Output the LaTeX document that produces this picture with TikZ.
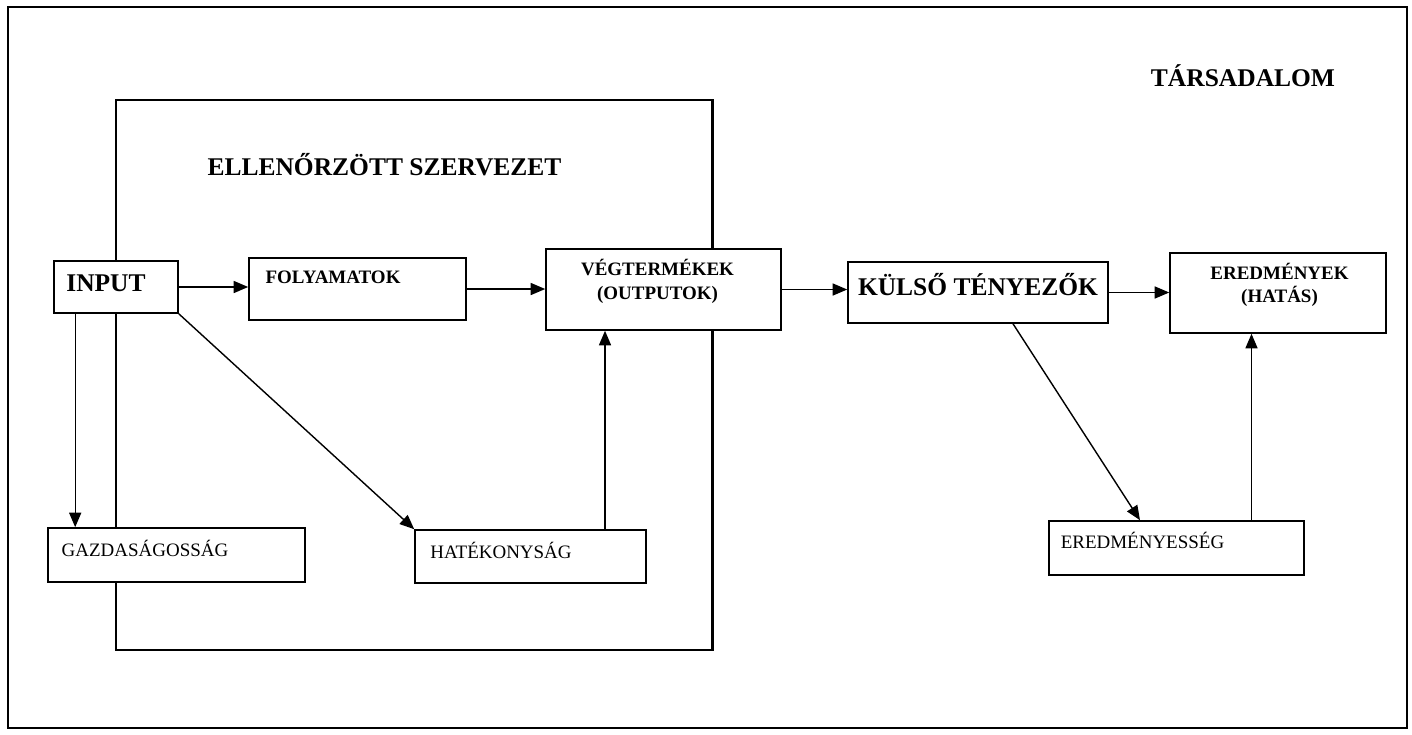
\documentclass[tikz,border=0pt]{standalone}
\usepackage{fontspec}
\setmainfont{Liberation Serif}
\usetikzlibrary{arrows.meta,positioning,calc}
\tikzset{
  frameln/.style={line width=1.3pt},
  box/.style={draw, fill=white, line width=0.9pt, inner sep=0pt},
  arr/.style={-{Triangle[length=2.9mm,width=2.4mm]}, line width=0.8pt},
  bigtxt/.style={font=\fontsize{14.5}{17}\selectfont\bfseries},
  midtxt/.style={font=\fontsize{10.8}{13.5}\selectfont\bfseries, align=center},
  plaintxt/.style={font=\fontsize{10.8}{13}\selectfont},
}

\begin{document}
\begin{tikzpicture}
    \useasboundingbox (0,0) rectangle (28.24,14.68);
    % Frames: society and the audited organisation
    \draw[frameln] (0.16,0.12) rectangle (28.14,14.54);
    \draw[frameln] (2.32,1.68) rectangle (14.25,12.68);
    \node[bigtxt] (tarsadalom) at (24.86,13.16) {TÁRSADALOM};
    \node[bigtxt] (szervezet) at (7.69,11.38) {ELLENŐRZÖTT SZERVEZET};
    % Main chain
    \node[box, minimum width=2.48cm, minimum height=1.04cm,
      label={[bigtxt, xshift=-0.2cm, yshift=0.08cm]center:INPUT}]
      (input) at (2.32,8.94) {};
    \node[box, minimum width=4.34cm, minimum height=1.24cm,
      label={[midtxt, xshift=-0.49cm, yshift=0.24cm]center:FOLYAMATOK}]
      (folyamatok) at (7.15,8.90) {};
    \node[box, minimum width=4.70cm, minimum height=1.62cm,
      label={[midtxt, xshift=-0.12cm, yshift=0.16cm]center:VÉGTERMÉKEK\\(OUTPUTOK)}]
      (vegtermekek) at (13.27,8.89) {};
    \node[box, minimum width=5.20cm, minimum height=1.22cm,
      label={[bigtxt, yshift=0.15cm]center:KÜLSŐ TÉNYEZŐK}]
      (kulso) at (19.56,8.83) {};
    \node[box, minimum width=4.32cm, minimum height=1.60cm,
      label={[midtxt, xshift=0.03cm, yshift=0.16cm]center:EREDMÉNYEK\\(HATÁS)}]
      (eredmenyek) at (25.56,8.82) {};
    % The three E-s
    \node[box, minimum width=5.14cm, minimum height=1.08cm,
      label={[plaintxt, xshift=-0.63cm, yshift=0.14cm]center:GAZDASÁGOSSÁG}]
      (gazd) at (3.53,3.58) {};
    \node[box, minimum width=4.62cm, minimum height=1.06cm,
      label={[plaintxt, xshift=-0.59cm, yshift=0.13cm]center:HATÉKONYSÁG}]
      (hatek) at (10.61,3.55) {};
    \node[box, minimum width=5.10cm, minimum height=1.08cm,
      label={[plaintxt, xshift=-0.68cm, yshift=0.16cm]center:EREDMÉNYESSÉG}]
      (eredmenyesseg) at (23.53,3.72) {};
    % Arrows
    \draw[arr] (input.east) -- (input.east -| folyamatok.west);
    \draw[arr] (folyamatok.east) -- (folyamatok.east -| vegtermekek.west);
    \draw[arr] (vegtermekek.east) -- (vegtermekek.east -| kulso.west);
    \draw[arr] (kulso.east) -- (kulso.east -| eredmenyek.west);
    \draw[arr] ([xshift=0.44cm]input.south west) -- ([xshift=0.44cm]input.south west |- gazd.north);
    \draw[arr] (input.south east) -- (hatek.north west);
    \draw[arr] ([xshift=1.49cm]hatek.north) -- ([xshift=1.49cm]hatek.north |- vegtermekek.south);
    \draw[arr] ([xshift=0.7cm]kulso.south) -- ([xshift=-0.73cm]eredmenyesseg.north);
    \draw[arr] ([xshift=1.5cm]eredmenyesseg.north) -- ([xshift=1.5cm]eredmenyesseg.north |- eredmenyek.south);
\end{tikzpicture}
\end{document}
